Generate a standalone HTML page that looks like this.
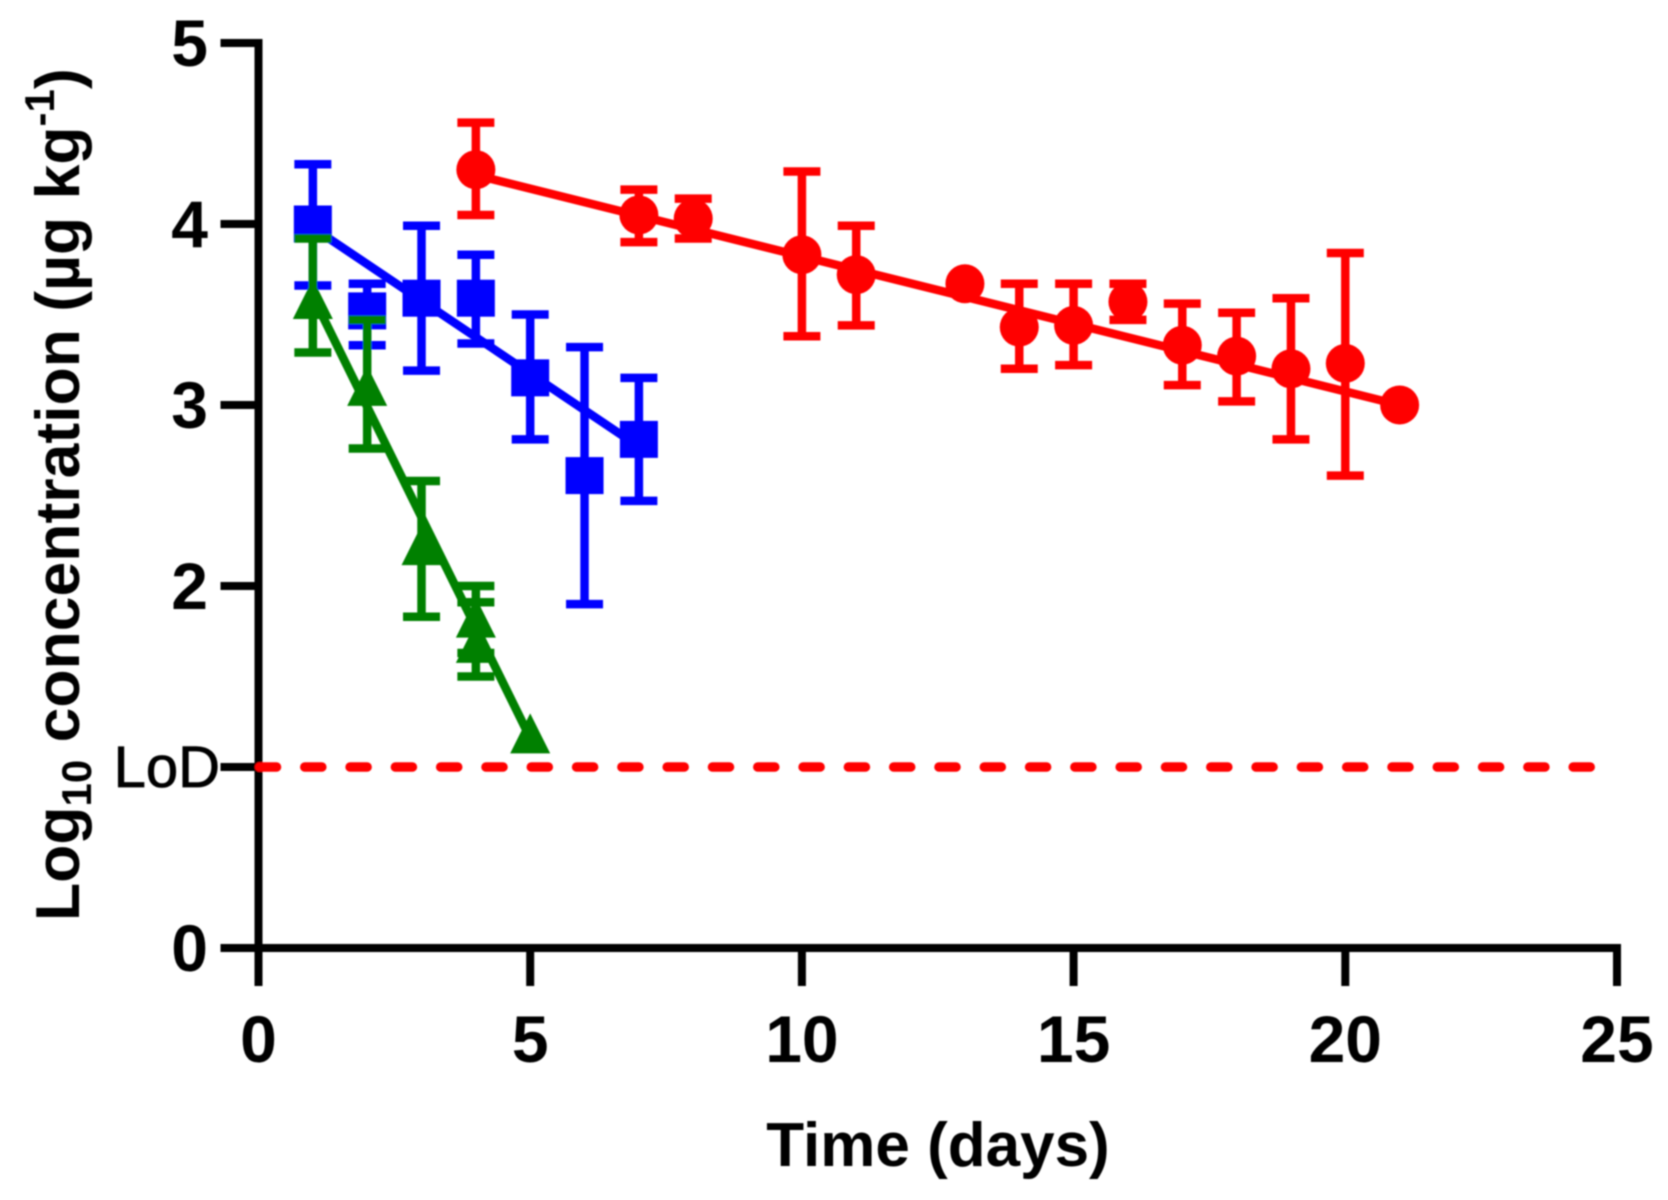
<!DOCTYPE html>
<html lang="en">
<head>
<meta charset="utf-8">
<title>Log10 concentration over time</title>
<style>
html,body{margin:0;padding:0;background:#fff;width:1668px;height:1200px;overflow:hidden}
svg{display:block}
text{font-family:"Liberation Sans",Arial,sans-serif;fill:#000}
</style>
</head>
<body>
<svg id="chart" xmlns="http://www.w3.org/2000/svg" width="1668" height="1200" viewBox="0 0 1668 1200">
  <defs><filter id="soft" x="-2%" y="-2%" width="104%" height="104%"><feGaussianBlur stdDeviation="0.9"/></filter></defs>
  <rect width="1668" height="1200" fill="#fff"/>
  <g id="root" filter="url(#soft)">
    <text transform="translate(79,921) rotate(-90)" font-size="62.5" font-weight="bold">Log<tspan font-size="42" dy="12">10</tspan><tspan dy="-12"> concentration (µg kg</tspan><tspan font-size="42" dy="-25">-1</tspan><tspan dy="25">)</tspan></text>
    <text x="938" y="1166" font-size="62" font-weight="bold" text-anchor="middle">Time (days)</text>
  </g>
</svg>
<script>
const xTicks = [0, 5, 10, 15, 20, 25];
const yTicks = [0, 1, 2, 3, 4, 5];
const yTickLabels = ['0', 'LoD', '2', '3', '4', '5'];
const lodValue = [1];

const redDays = [4, 7, 8, 10, 11, 13, 14, 15, 16, 17, 18, 19, 20, 21];
const redMeans = [4.30, 4.05, 4.03, 3.83, 3.72, 3.67, 3.43, 3.44, 3.57, 3.33, 3.27, 3.20, 3.23, 3.00];
const redUpper = [4.56, 4.19, 4.14, 4.29, 3.99, 3.67, 3.67, 3.67, 3.67, 3.56, 3.51, 3.59, 3.84, 3.00];
const redLower = [4.05, 3.90, 3.92, 3.38, 3.44, 3.67, 3.20, 3.22, 3.47, 3.11, 3.02, 2.81, 2.61, 3.00];
const redFitDays = [4, 21];
const redFitValues = [4.27, 3.00];

const blueDays = [1, 2, 3, 4, 5, 6, 7];
const blueMeans = [4.00, 3.52, 3.59, 3.59, 3.15, 2.61, 2.81];
const blueUpper = [4.33, 3.67, 3.99, 3.83, 3.50, 3.32, 3.15];
const blueLower = [3.66, 3.33, 3.19, 3.34, 2.81, 1.90, 2.47];
const blueFitDays = [1, 7];
const blueFitValues = [3.98, 2.77];

const greenDays = [1, 2, 3, 4, 4, 5];
const greenMeans = [3.58, 3.10, 2.22, 1.82, 1.68, 1.18];
const greenUpper = [3.92, 3.47, 2.58, 2.00, 1.91, 1.18];
const greenLower = [3.29, 2.76, 1.83, 1.63, 1.50, 1.18];
const greenFitDays = [1, 5];
const greenFitValues = [3.60, 1.16];

const NS = 'http://www.w3.org/2000/svg';
const root = document.getElementById('root');
const X0 = 258.5, X_PER = 54.34, Y0 = 948, Y_PER = 181;
const CAP = 37, BAR = 8.5, FIT = 8.5, TICK = 38, AXIS = 8;
function sx(v){ return X0 + v * X_PER; }
function sy(v){ return Y0 - v * Y_PER; }
function mk(tag, attrs, parent){
  const el = document.createElementNS(NS, tag);
  for (const k in attrs) el.setAttribute(k, attrs[k]);
  (parent || root).appendChild(el);
  return el;
}

/* axes */
const axes = mk('g', {stroke:'#000','stroke-width':AXIS,fill:'none'});



const yAxis = mk('line', {x1:sx(0),x2:sx(0),y1:sy(5)-AXIS/2,y2:sy(0)+TICK}, axes);



const xAxis = mk('line', {x1:sx(0)-TICK,x2:sx(25)+AXIS/2,y1:sy(0),y2:sy(0)}, axes);



xTicks.forEach(function(t){
  if (t > 0) {
    const tk = mk('line', {x1:sx(t),x2:sx(t),y1:sy(0),y2:sy(0)+TICK}, axes);
    
    
  }
  const lb = mk('text', {x:sx(t),y:1062,'font-size':66,'font-weight':'bold','text-anchor':'middle'});
  lb.textContent = String(t);
  
  
});

yTicks.forEach(function(t, i){
  if (t > 0) {
    const tk = mk('line', {x1:sx(0)-TICK,x2:sx(0),y1:sy(t),y2:sy(t)}, axes);
    
    
  }
  const isLod = yTickLabels[i] === 'LoD';
  const lb = mk('text', {x:isLod ? 220 : 208,y:sy(t)+(isLod ? 20 : 23),'font-size':isLod ? 58 : 66,'font-weight':isLod ? 'normal' : 'bold','text-anchor':'end'});
  lb.textContent = yTickLabels[i];
  if (isLod) { lb.setAttribute('stroke', '#000'); lb.setAttribute('stroke-width', '0.8'); }
  
  
});

/* limit of detection line */
const lod = mk('line', {x1:sx(0)+1,x2:1592,y1:sy(lodValue[0]),y2:sy(lodValue[0]),stroke:'#ff0000','stroke-width':9.5,'stroke-linecap':'round','stroke-dasharray':'17 28.3'});



function drawSeries(name, color, days, means, upper, lower, fitDays, fitValues, shape){
  const g = mk('g', {});
  
  

  days.forEach(function(d, i){
    if (upper[i] === lower[i]) return;
    const p = 'M' + (sx(d)-CAP/2) + ' ' + sy(upper[i]) + 'H' + (sx(d)+CAP/2) +
              'M' + sx(d) + ' ' + sy(upper[i]) + 'V' + sy(lower[i]) +
              'M' + (sx(d)-CAP/2) + ' ' + sy(lower[i]) + 'H' + (sx(d)+CAP/2);
    const eb = mk('path', {d:p,stroke:color,'stroke-width':BAR,fill:'none'}, g);
    
    
  });

  const fit = mk('line', {x1:sx(fitDays[0]),y1:sy(fitValues[0]),x2:sx(fitDays[1]),y2:sy(fitValues[1]),stroke:color,'stroke-width':FIT}, g);
  
  

  days.forEach(function(d, i){
    const cx = sx(d), cy = sy(means[i]);
    let m;
    if (shape === 'circle') {
      m = mk('circle', {cx:cx,cy:cy,r:19.5,fill:color}, g);
    } else if (shape === 'square') {
      m = mk('rect', {x:cx-19,y:cy-18.5,width:38,height:37,fill:color}, g);
    } else {
      m = mk('path', {d:'M' + cx + ' ' + (cy-21) + 'L' + (cx+20) + ' ' + (cy+19) + 'H' + (cx-20) + 'Z',fill:color}, g);
    }
    
    
  });
}

drawSeries('red', '#ff0000', redDays, redMeans, redUpper, redLower, redFitDays, redFitValues, 'circle');
drawSeries('blue', '#0000ff', blueDays, blueMeans, blueUpper, blueLower, blueFitDays, blueFitValues, 'square');
drawSeries('green', '#008000', greenDays, greenMeans, greenUpper, greenLower, greenFitDays, greenFitValues, 'triangle');
</script>
</body>
</html>
